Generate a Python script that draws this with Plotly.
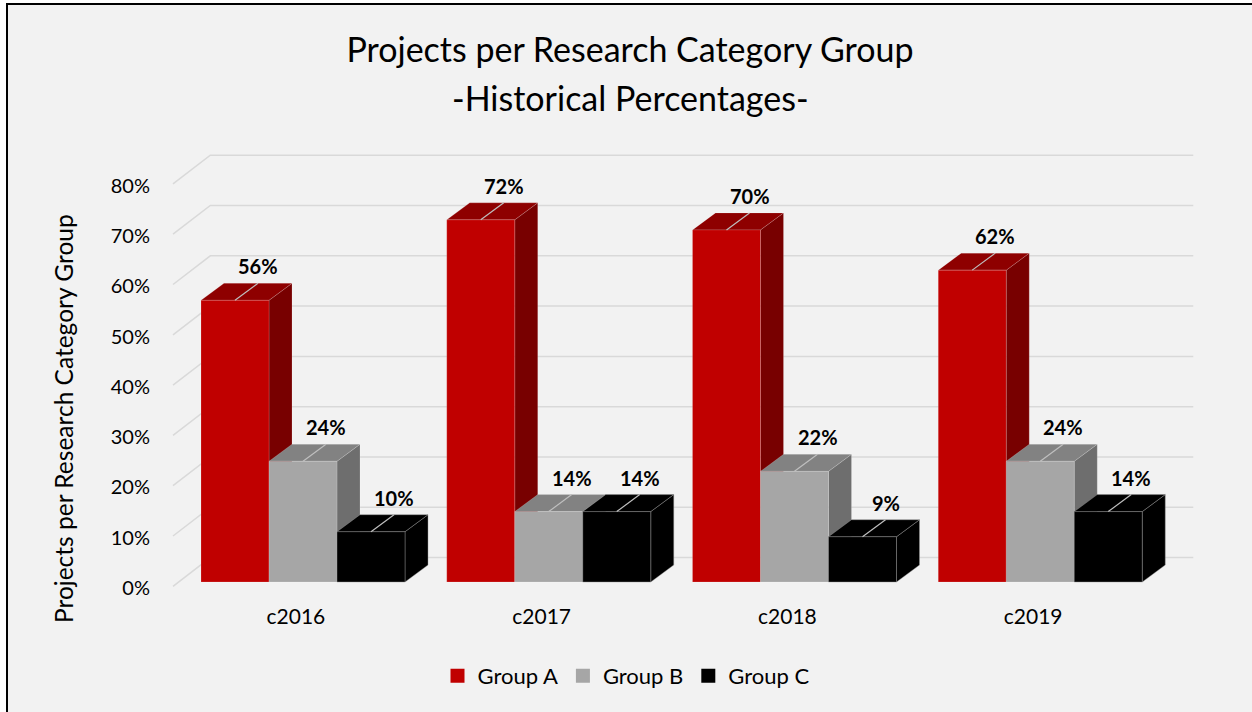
"""
3D-style clustered column chart: projects per research category group.
"""

import plotly.graph_objects as go

CATEGORIES = ["c2016", "c2017", "c2018", "c2019"]
GROUP_A = [56, 72, 70, 62]
GROUP_B = [24, 14, 22, 24]
GROUP_C = [10, 14, 9, 14]
SERIES_NAMES = ["Group A", "Group B", "Group C"]
Y_TICKS = [0, 10, 20, 30, 40, 50, 60, 70, 80]

# front / top / side shades per series
COLORS = {
    "Group A": ("#C00000", "#8E0000", "#780000"),
    "Group B": ("#A6A6A6", "#828282", "#6E6E6E"),
    "Group C": ("#000000", "#000000", "#000000"),
}
FONT = "Lato"

W, H = 1252, 712
L, R, T, B = 156, 32, 140, 112
PLOT_W = W - L - R
PLOT_H = H - T - B

# pixel scale of the axes
PX_PER_CAT = 245.75
PX_PER_PCT = 5.03
FRONT_X = 173          # left edge of the front plane (px)
BASE_Y = 582           # bar baseline (px)

# 3D offsets (axis units)
BAR_W = 68 / PX_PER_CAT
BAR_START = 28 / PX_PER_CAT
BAR_DX = 23 / PX_PER_CAT
BAR_DY = 17 / PX_PER_PCT
WALL_DX = 37.3 / PX_PER_CAT
WALL_DY = 28.7 / PX_PER_PCT
FRONT_DY = -4.3 / PX_PER_PCT


def paper_x(px):
    return (px - L) / PLOT_W


def paper_y(py):
    return (H - B - py) / PLOT_H


def wall_trace():
    xs, ys = [], []
    right = len(CATEGORIES) + WALL_DX
    for v in Y_TICKS:
        xs += [0, WALL_DX, right, None]
        ys += [v + FRONT_DY, v + FRONT_DY + WALL_DY, v + FRONT_DY + WALL_DY, None]
    return go.Scatter(
        x=xs, y=ys, mode="lines",
        line=dict(color="#D9D9D9", width=1.5),
        hoverinfo="skip", showlegend=False,
    )


def bar_faces(values, s):
    front_x, front_y, top_x, top_y, side_x, side_y = [], [], [], [], [], []
    for i, v in enumerate(values):
        x0 = i + BAR_START + s * BAR_W
        x1 = x0 + BAR_W
        front_x += [x0, x1, x1, x0, x0, None]
        front_y += [0, 0, v, v, 0, None]
        top_x += [x0, x1, x1 + BAR_DX, x0 + BAR_DX, x0, None]
        top_y += [v, v, v + BAR_DY, v + BAR_DY, v, None]
        side_x += [x1, x1 + BAR_DX, x1 + BAR_DX, x1, x1, None]
        side_y += [0, BAR_DY, v + BAR_DY, v, 0, None]
    return (front_x, front_y), (top_x, top_y), (side_x, side_y)


def build_figure():
    fig = go.Figure()
    fig.add_trace(wall_trace())

    all_values = [GROUP_A, GROUP_B, GROUP_C]
    for s, (name, values) in enumerate(zip(SERIES_NAMES, all_values)):
        front, top, side = bar_faces(values, s)
        c_front, c_top, c_side = COLORS[name]
        edge = "rgba(150,150,150,0.55)" if name == "Group C" else "rgba(255,255,255,0.2)"
        for (xs, ys), col in ((side, c_side), (top, c_top), (front, c_front)):
            fig.add_trace(go.Scatter(
                x=xs, y=ys, mode="lines", fill="toself", fillcolor=col,
                line=dict(color=edge, width=0.8),
                hoverinfo="skip", showlegend=False,
            ))

    # leader lines + data labels
    lx, ly = [], []
    for s, values in enumerate(all_values):
        for i, v in enumerate(values):
            xc = i + BAR_START + s * BAR_W + BAR_W / 2
            lx += [xc, xc + BAR_DX, None]
            ly += [v, v + BAR_DY, None]
            fig.add_annotation(
                x=xc + BAR_DX, y=v + BAR_DY, text=f"{v}%",
                showarrow=False, yshift=17,
                font=dict(family=FONT, size=20, color="#000000", weight="bold"),
            )
    fig.add_trace(go.Scatter(
        x=lx, y=ly, mode="lines", line=dict(color="#BFBFBF", width=1.2),
        hoverinfo="skip", showlegend=False,
    ))

    # legend entries
    for name in SERIES_NAMES:
        fig.add_trace(go.Scatter(
            x=[None], y=[None], mode="markers", name=name,
            marker=dict(symbol="square", size=14, color=COLORS[name][0]),
        ))

    fig.update_xaxes(
        range=[(L - FRONT_X) / PX_PER_CAT, (W - R - FRONT_X) / PX_PER_CAT],
        tickvals=[i + 0.5 for i in range(len(CATEGORIES))],
        ticktext=CATEGORIES,
        showgrid=False, zeroline=False, showline=False,
        tickfont=dict(family=FONT, size=21, color="#000000"),
        ticklabelstandoff=2,
    )
    fig.update_yaxes(
        range=[-(H - B - BASE_Y) / PX_PER_PCT, (BASE_Y - T) / PX_PER_PCT],
        tickvals=Y_TICKS,
        ticktext=[f"{v}%" for v in Y_TICKS],
        showgrid=False, zeroline=False, showline=False,
        tickfont=dict(family=FONT, size=20, color="#000000"),
        ticklabelshift=6,
        ticklabelstandoff=5,
    )

    fig.add_annotation(
        text="-Historical Percentages-", xref="paper", yref="paper",
        x=paper_x(630), y=paper_y(97), xanchor="center", yanchor="middle",
        showarrow=False,
        font=dict(family=FONT, size=34, color="#000000"),
    )
    fig.add_annotation(
        text="Projects per Research Category Group", xref="paper", yref="paper",
        x=paper_x(63), y=paper_y(419), xanchor="center", yanchor="middle",
        textangle=-90, showarrow=False,
        font=dict(family=FONT, size=24.5, color="#000000"),
    )

    # chart frame
    fig.add_shape(
        type="rect", xref="paper", yref="paper", layer="below",
        x0=paper_x(7), x1=paper_x(W + 6), y0=paper_y(4), y1=paper_y(H + 6),
        fillcolor="#F2F2F2", line=dict(color="#000000", width=2),
    )

    fig.update_layout(
        title=dict(
            text="Projects per Research Category Group",
            xref="container", yref="container",
            x=630 / W, y=1 - 50 / H, xanchor="center", yanchor="middle",
            font=dict(family=FONT, size=34, color="#000000"),
        ),
        width=W, height=H,
        margin=dict(l=L, r=R, t=T, b=B),
        paper_bgcolor="#FFFFFF",
        plot_bgcolor="rgba(0,0,0,0)",
        legend=dict(
            orientation="h", xref="container", yref="container",
            x=0.5, y=1 - 676 / H, xanchor="center", yanchor="middle",
            font=dict(family=FONT, size=22, color="#000000"),
            bgcolor="rgba(0,0,0,0)",
        ),
        showlegend=True,
    )
    return fig


fig = build_figure()
fig.write_html(
    "out.html",
    config={"displayModeBar": False},
    post_script="document.body.style.margin = '0';",
)
